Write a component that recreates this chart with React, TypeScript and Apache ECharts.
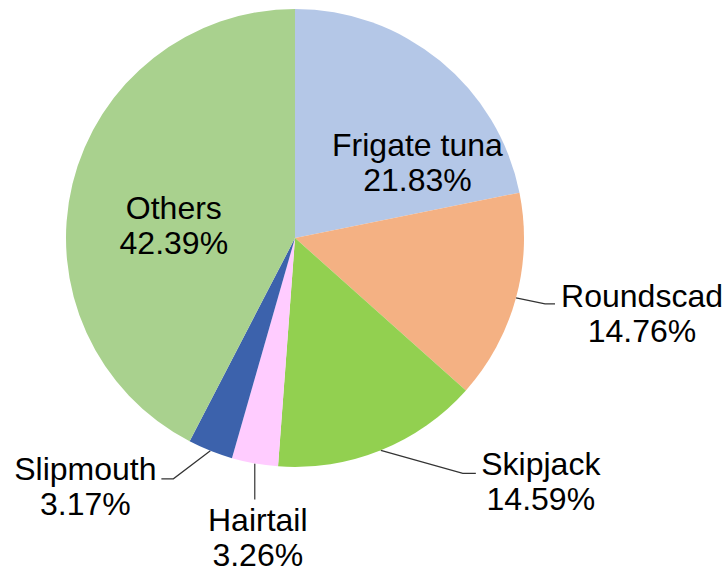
import React, { useEffect, useRef } from "react";
import * as echarts from "echarts";

const categories = ["Frigate tuna", "Roundscad", "Skipjack", "Hairtail", "Slipmouth", "Others"];
const values = [21.83, 14.76, 14.59, 3.26, 3.17, 42.39];
const colors = ["#B4C7E7", "#F4B183", "#92D050", "#FFCCFF", "#3C62AC", "#A9D18E"];

// label placement relative to the slice's edge anchor (styling only)
const outsideLayout: Record<number, { c: [number, number]; pts: [number, number][] }> = {
  1: { c: [126, 16], pts: [[29, 6], [39, 6]] },
  2: { c: [160, 31], pts: [[82, 23], [95, 23]] },
  3: { c: [3, 74], pts: [[0, 18], [0, 36]] },
  4: { c: [-125, 36], pts: [[-37, 28], [-49, 28]] },
};
const insideOffset: Record<number, [number, number]> = {
  0: [48, 15],
  5: [-7, 15],
};

export default function App() {
  const ref = useRef<HTMLDivElement>(null);
  useEffect(() => {
    if (!ref.current) return;
    const chart = echarts.init(ref.current, undefined, { renderer: "svg" });
    const data = categories.map((name, i) => {
      const inside = insideOffset[i] !== undefined;
      return {
        name,
        value: values[i],
        itemStyle: { color: colors[i] },
        label: inside
          ? { position: "inside", offset: insideOffset[i] }
          : { position: "outside" },
        labelLine: { show: !inside },
      };
    });
    chart.setOption({
      animation: false,
      series: [
        {
          type: "pie",
          center: [295, 238],
          radius: 229,
          startAngle: 90,
          clockwise: true,
          data,
          itemStyle: { borderWidth: 0 },
          label: {
            formatter: (p: any) => `${p.name}\n${p.value.toFixed(2)}%`,
            fontFamily: "Liberation Sans, Arial, sans-serif",
            fontSize: 32,
            lineHeight: 35,
            color: "#000",
            align: "center",
            overflow: "none",
            width: 400,
          },
          labelLine: {
            lineStyle: { color: "#333", width: 1.2 },
            length: 30,
            length2: 10,
          },
          labelLayout: (params: any) => {
            const cfg = outsideLayout[params.dataIndex];
            if (!cfg || !params.labelLinePoints) return {};
            const p0 = params.labelLinePoints[0];
            return {
              x: p0[0] + cfg.c[0],
              y: p0[1] + cfg.c[1],
              align: "center",
              verticalAlign: "middle",
              labelLinePoints: [
                [p0[0], p0[1]],
                [p0[0] + cfg.pts[0][0], p0[1] + cfg.pts[0][1]],
                [p0[0] + cfg.pts[1][0], p0[1] + cfg.pts[1][1]],
              ],
            };
          },
        },
      ],
    });
    return () => chart.dispose();
  }, []);
  return (
    <div
      ref={ref}
      style={{ position: "fixed", left: 0, top: 0, width: 724, height: 573, background: "#fff" }}
    />
  );
}
